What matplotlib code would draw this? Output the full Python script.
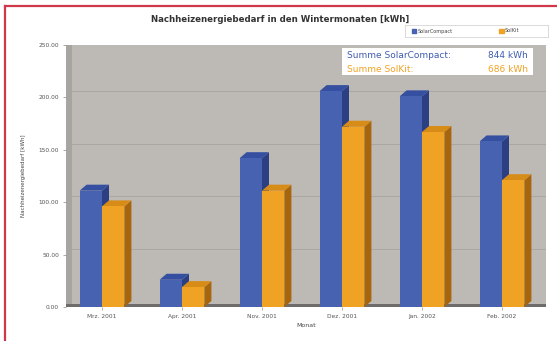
import matplotlib
matplotlib.use("Agg")
import matplotlib.pyplot as plt
import matplotlib.transforms as mtransforms
from matplotlib.patches import Polygon, Rectangle
from matplotlib.lines import Line2D
import numpy as np

# data
months = ["Mrz. 2001", "Apr. 2001", "Nov. 2001", "Dez. 2001", "Jan. 2002", "Feb. 2002"]
solarcompact = [111, 26, 142, 206, 201, 158]
solkit = [96, 19, 111, 172, 167, 121]
yticks = [0, 50, 100, 150, 200, 250]

blue = "#4762b0"
blue_side = "#2b3f82"
blue_top = "#3550a0"
orange = "#f0a224"
orange_side = "#a8660c"
orange_top = "#d88c18"
wall = "#bdb9b5"

fig = plt.figure(figsize=(5.57, 3.41), dpi=100)
fig.patch.set_facecolor("white")

# red frame (left and top only are visible)
fig.add_artist(Line2D([4.5/557, 4.5/557], [0, 1 - 6/341], color="#d0384a", lw=1.6))
fig.add_artist(Line2D([4.5/557, 1], [1 - 6/341, 1 - 6/341], color="#d0384a", lw=1.6))

W, H = 557, 341
left, right, top, bottom = 66, 546, 45, 307
ax = fig.add_axes([left/W, 1 - bottom/H, (right-left)/W, (bottom-top)/H])
ax.set_facecolor(wall)
ax.set_xlim(-0.45, 5.55)
ax.set_ylim(0, 250)

# depth offset for pseudo 3d (in pixels)
dx, dy = 7, 6

# back wall gridlines shifted by depth
for t in yticks[1:]:
    ax.plot([-0.45, 5.55], [t, t], color="#a29e9a", lw=0.5,
            transform=mtransforms.offset_copy(ax.transData, fig=fig, x=0, y=dy, units="dots"),
            zorder=1)

# left side wall and floor strip
ax.add_patch(Rectangle((0, 0), 0.012, 1, transform=ax.transAxes,
                       facecolor="#a8a4a0", edgecolor="none", zorder=1))
ax.add_patch(Rectangle((0, 0), 1, 0.012, transform=ax.transAxes,
                       facecolor="#6e6c6a", edgecolor="none", zorder=1))

x = np.arange(len(months))
bw = 0.28
for vals, shift, c, cs, ct in [(solarcompact, -bw/2, blue, blue_side, blue_top),
                               (solkit, bw/2, orange, orange_side, orange_top)]:
    for xi, v in zip(x, vals):
        x0 = xi + shift - bw/2
        x1 = xi + shift + bw/2
        # side face
        pts_d = ax.transData.transform([(x1, 0), (x1, v)])
        side = [pts_d[0], pts_d[1], pts_d[1] + [dx, dy], pts_d[0] + [dx, dy]]
        ax.add_patch(Polygon(side, closed=True, transform=None,
                             facecolor=cs, edgecolor="none", zorder=3))
        # top face
        p0 = ax.transData.transform((x0, v))
        p1 = ax.transData.transform((x1, v))
        topf = [p0, p1, p1 + [dx, dy], p0 + [dx, dy]]
        ax.add_patch(Polygon(topf, closed=True, transform=None,
                             facecolor=ct, edgecolor="none", zorder=3))
    ax.bar(x + shift, vals, width=bw, color=c, edgecolor="none", zorder=4)

ax.set_yticks(yticks)
ax.set_yticklabels(["%.2f" % t for t in yticks], fontsize=4.2, color="#555555")
ax.set_xticks(x)
ax.set_xticklabels(months, fontsize=4.2, color="#555555")
ax.tick_params(axis="both", length=2, width=0.5, color="#888888", pad=3)
for s in ax.spines.values():
    s.set_visible(False)

ax.set_xlabel("Monat", fontsize=4.5, color="#444444", labelpad=3)
ax.set_ylabel("Nachheizenergiebedarf [kWh]", fontsize=4, color="#444444", labelpad=9)

fig.text(280/W, 1 - 19/H, "Nachheizenergiebedarf in den Wintermonaten [kWh]",
         ha="center", va="center", fontsize=6.2, fontweight="bold", color="#333333")

# legend box at top right
leg_ax = fig.add_axes([405/W, 1 - 37/H, 143/W, 12/H])
leg_ax.set_xticks([])
leg_ax.set_yticks([])
for s in leg_ax.spines.values():
    s.set_color("#cccccc")
    s.set_linewidth(0.5)
leg_ax.add_patch(Rectangle((0.05, 0.35), 0.03, 0.3, transform=leg_ax.transAxes, color=blue))
leg_ax.text(0.09, 0.5, "SolarCompact", transform=leg_ax.transAxes, fontsize=3.6,
            va="center", color="#444444")
leg_ax.add_patch(Rectangle((0.66, 0.35), 0.03, 0.3, transform=leg_ax.transAxes, color=orange))
leg_ax.text(0.70, 0.5, "SolKit", transform=leg_ax.transAxes, fontsize=3.6,
            va="center", color="#444444")

# sums box
ax.add_patch(Rectangle(((342 - left)/(right-left), 1 - (75 - top)/(bottom-top)),
                       (533 - 342)/(right-left), 27/(bottom-top),
                       transform=ax.transAxes, facecolor="white", edgecolor="none", zorder=5))
ty1 = 1 - (56 - top)/(bottom-top)
ty2 = 1 - (69 - top)/(bottom-top)
ax.text((347 - left)/(right-left), ty1, "Summe SolarCompact:", transform=ax.transAxes,
        fontsize=6.5, color="#3f5cb0", va="center", zorder=6)
ax.text((528 - left)/(right-left), ty1, "%d kWh" % sum(solarcompact), transform=ax.transAxes,
        fontsize=6.5, color="#3f5cb0", va="center", ha="right", zorder=6)
ax.text((347 - left)/(right-left), ty2, "Summe SolKit:", transform=ax.transAxes,
        fontsize=6.5, color="#f0a224", va="center", zorder=6)
ax.text((528 - left)/(right-left), ty2, "%d kWh" % sum(solkit), transform=ax.transAxes,
        fontsize=6.5, color="#f0a224", va="center", ha="right", zorder=6)

fig.savefig("out.png", dpi=100, facecolor=fig.get_facecolor())
